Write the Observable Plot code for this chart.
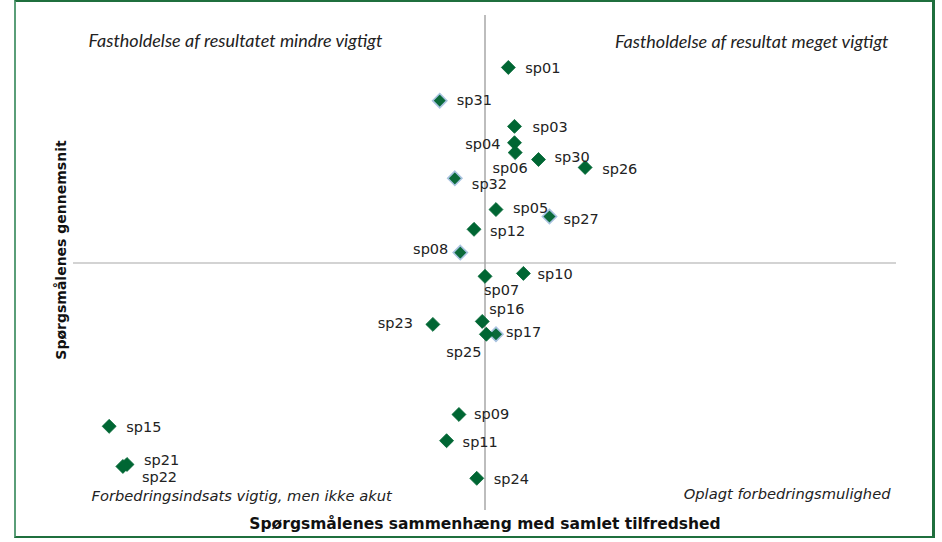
<!DOCTYPE html>
<html>
<head>
<meta charset="utf-8">
<script src="https://cdn.jsdelivr.net/npm/d3@7"></script>
<script src="https://cdn.jsdelivr.net/npm/@observablehq/plot@0.6"></script>
<style>
  html, body { margin: 0; padding: 0; background: #fff; }
  #wrap { position: relative; width: 942px; height: 542px; overflow: hidden; }
  #frame { position: absolute; left: 14px; top: -1px; width: 921px; height: 539px;
           border-left: 2px solid #5a9e78; border-right: 3px solid #1f6f3d;
           border-top: 3px solid #1f6f3d; border-bottom: 2px solid #1f6f3d; box-sizing: border-box; pointer-events: none; }
  #chart { position: absolute; left: 0; top: 0; }
</style>
</head>
<body>
<div id="wrap"><div id="chart"></div><div id="frame"></div></div>
<script>
// Questions (spørgsmål)
const names = ["sp01","sp31","sp03","sp04","sp06","sp30","sp26","sp32","sp05","sp27","sp12","sp08",
               "sp07","sp10","sp16","sp23","sp25","sp17","sp09","sp11","sp24","sp15","sp21","sp22"];
// Correlation with overall satisfaction (x)
const corr = [0.517,0.467,0.5215,0.5215,0.522,0.539,0.573,0.478,0.508,0.547,0.492,0.482,
              0.500,0.528,0.498,0.462,0.501,0.508,0.481,0.472,0.494,0.226,0.239,0.236];
// Question mean (y)
const mean = [4.195,4.128,4.076,4.043,4.023,4.009,3.993,3.971,3.908,3.894,3.868,3.821,
              3.773,3.779,3.682,3.676,3.656,3.656,3.494,3.441,3.365,3.470,3.393,3.389];
// Second-series markers (drawn with a light outline)
const outlined = ["sp31","sp32","sp27","sp17","sp08"];
// Reference lines (averages)
const xMid = 0.5, yMid = 3.8;

const quadrantLabels = [
  {text: "Fastholdelse af resultatet mindre vigtigt", anchor: "top-left"},
  {text: "Fastholdelse af resultat meget vigtigt", anchor: "top-right"},
  {text: "Forbedringsindsats vigtig, men ikke akut", anchor: "bottom-left"},
  {text: "Oplagt forbedringsmulighed", anchor: "bottom-right"}
];
const xTitle = "Spørgsmålenes sammenhæng med samlet tilfredshed";
const yTitle = "Spørgsmålenes gennemsnit";

// label placement (dx, dy, textAnchor)
const place = {
  sp01:[17,1,"start"], sp31:[17,0,"start"], sp03:[18,1,"start"], sp04:[-14,2,"end"],
  sp06:[-5,16,"middle"], sp30:[16,-2,"start"], sp26:[17,2,"start"], sp32:[17,6,"start"],
  sp05:[17,-1,"start"], sp27:[14,3,"start"], sp12:[16,2,"start"], sp08:[-12,-3,"end"],
  sp07:[-1,14,"start"], sp10:[14,1,"start"], sp16:[7,-12,"start"], sp23:[-20,-1,"end"],
  sp25:[-5,18,"end"], sp17:[10,-2,"start"], sp09:[15,0,"start"], sp11:[16,2,"start"],
  sp24:[17,1,"start"], sp15:[17,1,"start"], sp21:[17,-4,"start"], sp22:[19,11,"start"]
};

const data = names.map((n, i) => ({name: n, x: corr[i], y: mean[i], outlined: outlined.includes(n)}));

const labelMarks = ["start","middle","end"].map(a =>
  names.filter(n => place[n][2] === a).map(n => {
    const d = data.find(e => e.name === n);
    return Plot.text([d], {x: "x", y: "y", text: "name", dx: place[n][0], dy: place[n][1],
      textAnchor: a, fontSize: 14.5, fill: "#222", fontFamily: "DejaVu Sans"});
  })
).flat();

const qOff = {
  "top-left": {dx: 15, dy: 26, textAnchor: "start", fontFamily: "Lato", fontSize: 18},
  "top-right": {dx: -8, dy: 27, textAnchor: "end", fontFamily: "Lato", fontSize: 18},
  "bottom-left": {dx: 18, dy: -14, textAnchor: "start", fontFamily: "DejaVu Sans", fontSize: 14.7},
  "bottom-right": {dx: -6, dy: -16, textAnchor: "end", fontFamily: "DejaVu Sans", fontSize: 14.7}
};

const chart = Plot.plot({
  width: 942,
  height: 542,
  marginLeft: 73,
  marginRight: 46,
  marginTop: 15,
  marginBottom: 32,
  x: {domain: [0.2, 0.8], axis: null},
  y: {domain: [3.3, 4.3], axis: null},
  style: {background: "white", overflow: "visible"},
  marks: [
    Plot.ruleX([xMid], {stroke: "#bdbdbd", strokeWidth: 2}),
    Plot.ruleY([yMid], {stroke: "#a8a8a8", strokeWidth: 1.2}),
    Plot.dot(data.filter(d => d.outlined), {x: "x", y: "y", symbol: "diamond2", r: 6.4,
      fill: "#0b6a3a", stroke: "#a9c3e0", strokeWidth: 1.6}),
    Plot.dot(data.filter(d => !d.outlined), {x: "x", y: "y", symbol: "diamond2", r: 6.3,
      fill: "#006633", stroke: "#006633", strokeWidth: 0.8}),
    ...labelMarks,
    ...quadrantLabels.map(q => Plot.text([q.text], {frameAnchor: q.anchor, text: d => d,
      fontStyle: "italic", fill: "#222", lineAnchor: "middle", ...qOff[q.anchor]})),
    Plot.text([xTitle], {frameAnchor: "bottom", text: d => d, dy: 14, fontWeight: "bold",
      fontSize: 15.5, fontFamily: "DejaVu Sans", fill: "#111", lineAnchor: "middle"}),
    Plot.text([yTitle], {frameAnchor: "left", text: d => d, dx: -12, dy: -13, rotate: -90,
      textAnchor: "middle", fontWeight: "bold", fontSize: 14, fontFamily: "DejaVu Sans",
      fill: "#111", lineAnchor: "middle"})
  ]
});
document.getElementById("chart").appendChild(chart);
</script>
</body>
</html>
